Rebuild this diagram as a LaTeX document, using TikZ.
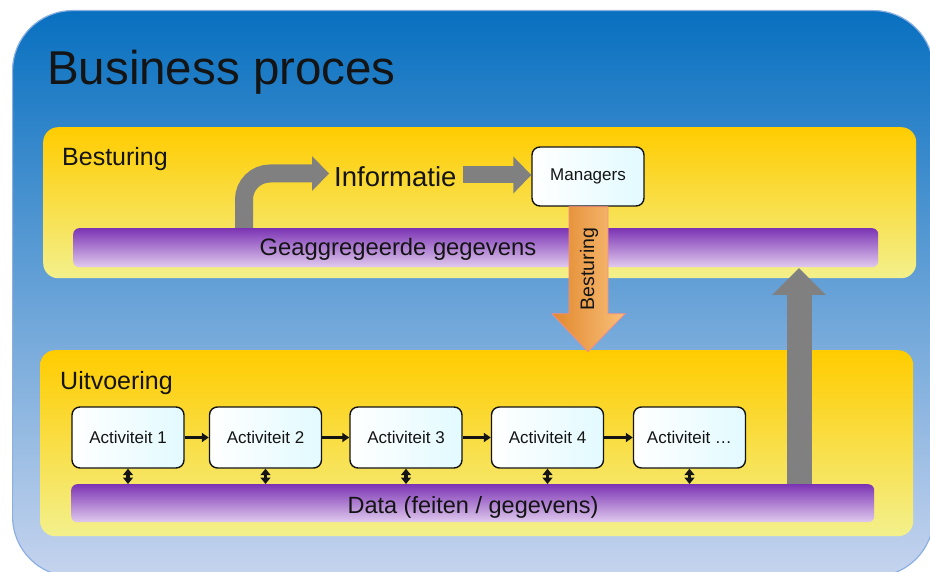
\documentclass[tikz,border=0pt]{standalone}
\usepackage{fontspec}
\setmainfont{Liberation Sans}
\usetikzlibrary{arrows.meta,calc}

\definecolor{outerTop}{RGB}{8,112,192}
\definecolor{outerMid}{RGB}{144,186,228}
\definecolor{outerBot}{RGB}{198,212,238}
\definecolor{outerLine}{RGB}{140,176,226}
\definecolor{panelTop}{RGB}{255,204,0}
\definecolor{panelBot}{RGB}{243,240,140}
\definecolor{barTop}{RGB}{124,52,180}
\definecolor{barBot}{RGB}{224,202,238}
\definecolor{boxCyan}{RGB}{226,250,255}
\definecolor{orangeL}{RGB}{226,136,44}
\definecolor{orangeR}{RGB}{248,192,122}
\definecolor{orangeLine}{RGB}{246,140,130}
\definecolor{arrowGray}{RGB}{128,128,128}
\definecolor{ink}{RGB}{20,20,20}

\tikzset{
  txt/.style={inner sep=0pt, text=ink},
  panel/.style={anchor=north west, rounded corners=15pt,
    top color=panelTop, bottom color=panelBot, inner sep=0pt},
  databar/.style={anchor=north west, rounded corners=6pt,
    top color=barTop, bottom color=barBot, inner sep=0pt},
  actbox/.style={draw=ink, line width=1.4pt, rounded corners=8pt,
    left color=white, right color=boxCyan,
    minimum width=112pt, minimum height=61pt, inner sep=0pt,
    text=ink, font=\fontsize{17}{19}\selectfont},
  garrow/.style={draw=arrowGray, line width=#1},
  flow/.style={draw=ink, line width=2.5pt, -{Triangle[width=9pt,length=7pt]}},
  dbl/.style={draw=ink, line width=3.5pt,
    {Triangle[width=10pt,length=6.5pt]}-{Triangle[width=10pt,length=6.5pt]}},
}

\begin{document}
\begin{tikzpicture}[x=1pt,y=-1pt]
\useasboundingbox (0,0) rectangle (930,572);
\clip (0,0) rectangle (930,572);

% outer business process frame
\node[anchor=north west, draw=outerLine, line width=1.2pt, rounded corners=60pt,
      top color=outerTop, middle color=outerMid, bottom color=outerBot,
      minimum width=921pt, minimum height=566pt, inner sep=0pt] (proc) at (12,10) {};
\node[txt, anchor=base west, font=\fontsize{47.5}{52}\selectfont] (title) at (47,85) {Business proces};

% control layer
\node[panel, minimum width=873pt, minimum height=151pt] (ctrl) at (43,127) {};
\node[txt, anchor=base west, font=\fontsize{25}{28}\selectfont] (ctrlLbl) at (62,166) {Besturing};
\node[databar, minimum width=805pt, minimum height=39pt] (agg) at (73,228) {};
\node[txt, anchor=base, font=\fontsize{23.8}{26}\selectfont] (aggLbl) at (398,256) {Geaggregeerde gegevens};

% execution layer
\node[panel, minimum width=873pt, minimum height=186pt] (exec) at (40,350) {};
\node[txt, anchor=base west, font=\fontsize{25}{28}\selectfont] (execLbl) at (60,389) {Uitvoering};
\node[databar, minimum width=803pt, minimum height=38pt] (data) at (71,484) {};
\node[txt, anchor=base, font=\fontsize{23.5}{26}\selectfont] (dataLbl) at (473,513) {Data (feiten / gegevens)};

% managers and information flow
\node[actbox, minimum width=112pt, minimum height=59pt] (mgr) at (588,176.5) {Managers};
\node[txt, anchor=west, font=\fontsize{27.5}{30}\selectfont] (info) at (334,176.5) {Informatie};

\coordinate (aggOut) at (244,228);
\draw[garrow=18pt, rounded corners=26pt] (aggOut) |- ($(info.west)+(-22,-3)$);
\fill[arrowGray] ($(info.west)+(-22,-20.5)$) -- ($(info.west)+(-5,-3)$) -- ($(info.west)+(-22,14.5)$) -- cycle;

\draw[garrow=17pt, -{Triangle[width=36pt,length=18pt]}, shorten <=6pt] ($(info.east)+(0,-1.5)$) -- ($(mgr.west)+(0,-1.5)$);

% steering arrow from managers down to execution
\shade[draw=orangeLine, line width=0.8pt, left color=orangeL, right color=orangeR]
  ([xshift=-19pt]mgr.south) -- ++(39,0) -- ++(0,107) -- ++(17,0) -- ++(-37,38)
  -- ++(-36,-38) -- ++(17,0) -- cycle;
\node[txt, rotate=90, font=\fontsize{19.5}{21}\selectfont] (steerLbl) at (589,269) {Besturing};

% activities
\node[actbox] (a1) at (128,437.5) {Activiteit 1};
\node[actbox] (a2) at (265.5,437.5) {Activiteit 2};
\node[actbox] (a3) at (406,437.5) {Activiteit 3};
\node[actbox] (a4) at (547.5,437.5) {Activiteit 4};
\node[actbox] (a5) at (689.5,437.5) {Activiteit \dots};

\draw[flow] (a1) -- (a2);
\draw[flow] (a2) -- (a3);
\draw[flow] (a3) -- (a4);
\draw[flow] (a4) -- (a5);

\foreach \a in {a1,a2,a3,a4,a5}
  \draw[dbl] (\a.south) -- (\a.south |- data.north);

% aggregation arrow from data up to the control layer
\coordinate (dataOut) at (799,484);
\coordinate (aggIn) at (799,268);
\draw[garrow=25pt, -{Triangle[width=52pt,length=27pt]}] (dataOut) -- (aggIn);
\end{tikzpicture}
\end{document}
